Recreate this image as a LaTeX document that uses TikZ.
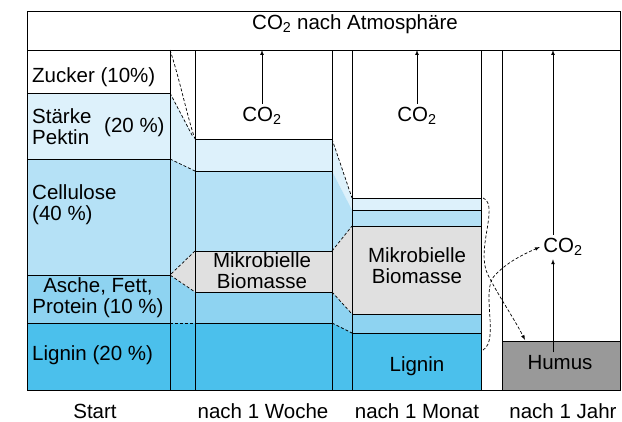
\documentclass[tikz,border=0pt]{standalone}
\usepackage{fontspec}
\setmainfont{Liberation Sans}
\begin{document}
\begin{tikzpicture}[x=1pt,y=-1pt,
  every node/.style={font=\fontsize{20.5}{21}\selectfont},
  lab/.style={align=left,anchor=west,inner sep=0},
  dot/.style={densely dashed,line width=0.7pt},
  arr/.style={-latex,line width=0.7pt},
  box/.style={draw,line width=0.7pt}]
\definecolor{cz}{HTML}{FFFFFF}
\definecolor{cs}{HTML}{DDF1FB}
\definecolor{cc}{HTML}{B5E1F6}
\definecolor{ca}{HTML}{8ED3F1}
\definecolor{cl}{HTML}{4BC0EC}
\definecolor{cb}{HTML}{E0E0E0}
\definecolor{ch}{HTML}{999999}
\useasboundingbox (0,0) rectangle (622,421);
% transitions start->week
\fill[cs] (170,93)--(195,139)--(195,171)--(170,159)--cycle;
\fill[cc] (170,159)--(195,171)--(195,251)--(170,275)--cycle;
\fill[ca] (170,275)--(195,292)--(195,323)--(170,323)--cycle;
\fill[cl] (170,323) rectangle (195,390);
\fill[cb] (170,275)--(195,251)--(195,292)--cycle;
% transitions week->month
\fill[cs] (332,139)--(352,198)--(352,210)--(332,171)--cycle;
\fill[cc] (332,171)--(352,210)--(352,226)--(332,251)--cycle;
\fill[cb] (332,251)--(352,226)--(352,314)--(332,292)--cycle;
\fill[ca] (332,292)--(352,314)--(352,333)--(332,323)--cycle;
\fill[cl] (332,323)--(352,333)--(352,390)--(332,390)--cycle;
% start column
\draw[box,fill=cz] (27,50) rectangle (170,93);
\draw[box,fill=cs] (27,93) rectangle (170,159);
\draw[box,fill=cc] (27,159) rectangle (170,275);
\draw[box,fill=ca] (27,275) rectangle (170,323);
\draw[box,fill=cl] (27,323) rectangle (170,390);
% week column
\draw[box,fill=cs] (195,139) rectangle (332,171);
\draw[box,fill=cc] (195,171) rectangle (332,251);
\draw[box,fill=cb] (195,251) rectangle (332,292);
\draw[box,fill=ca] (195,292) rectangle (332,323);
\draw[box,fill=cl] (195,323) rectangle (332,390);
% month column
\draw[box,fill=cs] (352,198) rectangle (481,210);
\draw[box,fill=cc] (352,210) rectangle (481,226);
\draw[box,fill=cb] (352,226) rectangle (481,314);
\draw[box,fill=ca] (352,314) rectangle (481,333);
\draw[box,fill=cl] (352,333) rectangle (481,390);
% year
\draw[box,fill=ch] (502,341) rectangle (620,390);
% verticals and frame
\foreach \x in {170,195,332,352,481,502}{\draw[line width=0.7pt] (\x,50)--(\x,390);}
\draw[box] (27,11) rectangle (620,390);
\draw[line width=0.7pt] (27,50)--(620,50);
% dotted boundaries
\draw[dot] (170,50) .. controls (180,80) and (188,120) .. (195,139);
\draw[dot] (170,93)--(193,137);
\draw[dot] (170,159)--(195,171);
\draw[dot] (195,251)--(170,275)--(195,292);
\draw[dot] (170,323)--(195,323);
\draw[dot] (332,139)--(352,198);
\draw[dot] (332,251)--(352,226);
\draw[dot] (332,292)--(352,314);
\draw[dot] (332,323)--(352,333);
% texts
\node (top) at (355,24) {CO\textsubscript{2} nach Atmosphäre};
\node[lab] (zu) at (32,77) {Zucker (10\%)};
\node[lab] (st) at (32,127) {Stärke\\Pektin};
\node[lab] (stp) at (104,127) {(20 \%)};
\node[lab] (ce) at (32,205) {Cellulose\\(40 \%)};
\node[align=center,inner sep=0] (as) at (98,298) {Asche, Fett,\\Protein (10 \%)};
\node[lab] (li) at (32,355) {Lignin (20 \%)};
\node[align=center,inner sep=0] (mb1) at (262,271) {Mikrobielle\\Biomasse};
\node[align=center,inner sep=0] (mb2) at (417,266) {Mikrobielle\\Biomasse};
\node (li2) at (417,366) {Lignin};
\node (hu) at (560,363) {Humus};
\node (c1) at (262,116) {CO\textsubscript{2}};
\node (c2) at (417,116) {CO\textsubscript{2}};
\node (c3) at (563,247) {CO\textsubscript{2}};
\coordinate (t1) at (262,50);
\coordinate (t2) at (417,50);
\coordinate (t3) at (553,50);
\draw[arr] (c1.north) -- (t1);
\draw[arr] (c2.north) -- (t2);
\draw[arr] (c3.north -| t3) -- (t3);
\draw[arr] (hu.north -| t3) -- (c3.south -| t3);
\draw[dot,-latex] (483,198) .. controls (500,205) and (475,250) .. (488,275) .. controls (498,295) and (515,320) .. (525,340);
\draw[dot,-latex] (483,350) .. controls (500,340) and (480,290) .. (495,275) .. controls (505,265) and (515,258) .. (c3.west);
\node (s1) at (95,411) {Start};
\node (s2) at (263,411) {nach 1 Woche};
\node (s3) at (417,411) {nach 1 Monat};
\node (s4) at (563,411) {nach 1 Jahr};
\end{tikzpicture}
\end{document}
